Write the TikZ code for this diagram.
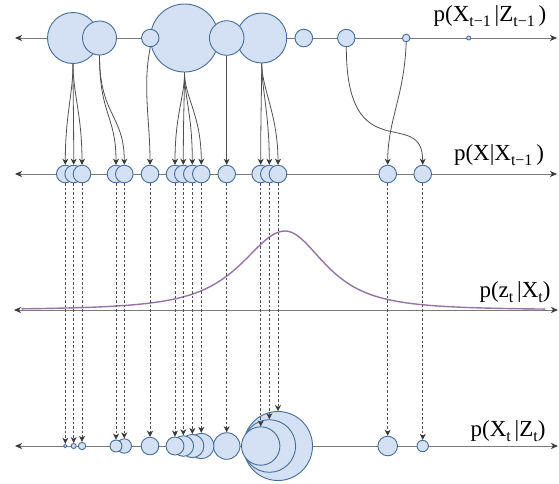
\documentclass[tikz,border=0pt]{standalone}
\usepackage{fontspec}
\setmainfont{Liberation Serif}
\usetikzlibrary{arrows.meta}
\definecolor{cfill}{HTML}{D4E1F5}
\definecolor{cdraw}{HTML}{456C98}
\definecolor{axisc}{HTML}{7A7A7A}
\definecolor{tipc}{HTML}{3A3A3A}
\definecolor{connc}{HTML}{505050}
\definecolor{purp}{HTML}{9673A6}
\newcommand\lsub[1]{\raisebox{-0.25em}{\fontsize{16}{16}\selectfont #1}}
\tikzset{
  atip/.tip={Stealth[length=7pt,width=6pt,inset=2pt,color=tipc]},
  ctip/.tip={Stealth[length=6pt,width=6pt,inset=1.8pt,color=tipc]},
  circ/.style={circle,draw=cdraw,fill=cfill,line width=0.9pt,inner sep=0pt,minimum size=#1},
  axis/.style={draw=axisc,line width=0.8pt,atip-atip},
  conn/.style={draw=connc,line width=0.8pt,-ctip},
  dconn/.style={draw=connc,line width=0.7pt,dash pattern=on 2.5pt off 2pt,-ctip},
  lab/.style={font=\fontsize{23}{27}\selectfont,inner sep=0pt},
  pcurve/.style={draw=purp,line width=1.4pt}
}
\begin{document}
\begin{tikzpicture}[x=1pt,y=-1pt]
\useasboundingbox (0,0) rectangle (559,483);
% axes
\coordinate (L1) at (15,38);  \coordinate (R1) at (557,38);
\coordinate (L2) at (15,174); \coordinate (R2) at (557,174);
\coordinate (L3) at (14,310); \coordinate (R3) at (558,310);
\coordinate (L4) at (15,446); \coordinate (R4) at (558,446);
\draw[axis] (L1) -- (R1);
\draw[axis] (L2) -- (R2);
\draw[axis] (L3) -- (R3);
\draw[axis] (L4) -- (R4);
% labels
\node[lab] (t1) at (490,16) {p(X\lsub{t−1}\,|Z\lsub{t−1}\,)};
\node[lab] (t2) at (499,155) {p(X|X\lsub{t−1}\,)};
\node[lab] (t3) at (515,292) {p(z\lsub{t}\,|X\lsub{t})};
\node[lab] (t4) at (508,431) {p(X\lsub{t}\,|Z\lsub{t})};
% top row (large first)
\node[circ=68pt] (a4) at (184.5,38) {};
\node[circ=51pt] (a1) at (73,38) {};
\node[circ=50pt] (a6) at (261.7,38) {};
\node[circ=34pt] (a2) at (99.5,38) {};
\node[circ=34.6pt] (a5) at (226.7,38) {};
\node[circ=17.4pt] (a3) at (150.3,38) {};
\node[circ=17.6pt] (a7) at (303.8,38) {};
\node[circ=17.4pt] (a8) at (346.3,38) {};
\node[circ=7.6pt] (a9) at (406.2,38) {};
\node[circ=4pt] (a10) at (468.7,38) {};
% middle row
\foreach \n/\x in {1/65.3,2/73.7,3/82,4/116,5/124.3,6/150,7/175,8/183.3,9/192.3,10/201.3,11/226.7,12/260.7,13/269.3,14/278,15/387.7,16/422.7}
  \node[circ=17.6pt] (m\n) at (\x,174) {};
% bottom row (large first)
\node[circ=69pt] (b14) at (278,446) {};
\node[circ=52.6pt] (b13) at (269.3,446) {};
\node[circ=38.4pt] (b12) at (260.7,446) {};
\node[circ=26.6pt] (b11) at (226.7,446) {};
\node[circ=25.4pt] (b10) at (201.3,446) {};
\node[circ=23.2pt] (b9) at (192.3,446) {};
\node[circ=20.6pt] (b8) at (183.3,446) {};
\node[circ=19.6pt] (b15) at (387.7,446) {};
\node[circ=18pt] (b7) at (175,446) {};
\node[circ=17.6pt] (b6) at (150,446) {};
\node[circ=14.4pt] (b5) at (124.3,446) {};
\node[circ=12pt] (b4) at (116,446) {};
\node[circ=11.4pt] (b16) at (422.7,446) {};
\node[circ=7.4pt] (b3) at (82,446) {};
\node[circ=5pt] (b2) at (73.7,446) {};
\node[circ=3.6pt] (b1) at (65.3,446) {};
% likelihood curve
\draw[pcurve] plot[domain=21.5:285,samples=80,smooth] (\x,{310-79/((1+((\x-285)/67)^2)*sqrt(1+((\x-285)/67)^2))})
  -- plot[domain=285:545,samples=80,smooth] (\x,{310-79/((1+((\x-285)/61)^2)*sqrt(1+((\x-285)/61)^2))});
% connectors top -> middle
\foreach \m in {1,2,3}
  \draw[conn] (a1.south) .. controls +(0,30) and +(0,-50) .. (m\m.north);
\foreach \m in {4,5}
  \draw[conn] (a2.south) .. controls +(0,60) and +(0,-50) .. (m\m.north);
\draw[conn] (a3.south) .. controls +(-8,40) and +(0,-45) .. (m6.north);
\foreach \m in {7,8,9,10}
  \draw[conn] (a4.south) .. controls +(0,25) and +(0,-50) .. (m\m.north);
\draw[conn] (a5.south) -- (m11.north);
\foreach \m in {12,13,14}
  \draw[conn] (a6.south) .. controls +(0,25) and +(0,-50) .. (m\m.north);
\draw[conn] (a8.south) .. controls +(0,125) and +(0,-60) .. (m16.north);
\draw[conn] (a9.south) .. controls +(-2,55) and +(0,-45) .. (m15.north);
% dashed middle -> bottom
\foreach \n in {1,...,16}
  \draw[dconn] (m\n.south) -- (b\n.north);
\end{tikzpicture}
\end{document}
